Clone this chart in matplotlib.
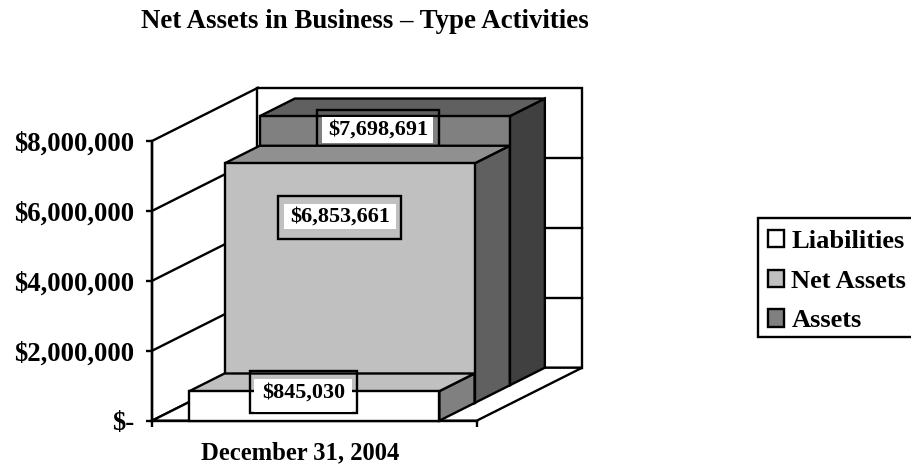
import matplotlib
matplotlib.use("Agg")
import matplotlib.pyplot as plt
from matplotlib.patches import Patch, Polygon, Rectangle
from matplotlib.transforms import Affine2D

W, H = 912, 466

# data, front to back
series = ["Liabilities", "Net Assets", "Assets"]
values = [845030, 6853661, 7698691]
category = "December 31, 2004"
title = "Net Assets in Business \u2013 Type Activities"
y_ticks = [0, 2000000, 4000000, 6000000, 8000000]
y_labels = ["$-", "$2,000,000", "$4,000,000", "$6,000,000", "$8,000,000"]

# styles
front_cols = ["#ffffff", "#c0c0c0", "#808080"]
top_cols = ["#c0c0c0", "#909090", "#606060"]
side_cols = ["#808080", "#606060", "#404040"]
# outer box, inner white box (left, top, right, bottom in pixels)
outer_boxes = [(249.5, 371, 356.5, 413), (278, 196, 400.5, 239), (317, 110, 439, 150)]
inner_boxes = [(254, 379, 352, 412), (284, 204, 396, 229), (322, 117, 433, 143)]

LW = 1.7
FONT = "Liberation Serif"
plt.rcParams["font.family"] = FONT
plt.rcParams["font.weight"] = "bold"
plt.rcParams["axes.labelweight"] = "bold"

fig = plt.figure(figsize=(W / 100, H / 100), dpi=100)
# pixel coordinates measured from the top left corner of the picture
px = Affine2D().scale(1, -1).translate(0, H)

left, right, bottom, top = 152, 476.7, 420.7, 141
ax = fig.add_axes([left / W, 1 - bottom / H, (right - left) / W, (bottom - top) / H])
ax.set_xlim(0, 1)
ax.set_ylim(0, 8000000)
ax.patch.set_visible(False)

# depth of the box, in axis units
depth_x = 105.5 / (right - left)
depth_y = 53 / (bottom - top) * 8000000


def pt(x, y, z):
    return (x + z * depth_x, y + z * depth_y)


def face(points, color, zorder):
    ax.add_patch(Polygon([pt(*p) for p in points], closed=True, facecolor=color,
                         edgecolor="black", linewidth=LW, joinstyle="miter",
                         clip_on=False, zorder=zorder))


ymax = y_ticks[-1]
# walls and floor
face([(0, 0, 0), (0, ymax, 0), (0, ymax, 1), (0, 0, 1)], "white", 1)
face([(0, 0, 1), (0, ymax, 1), (1, ymax, 1), (1, 0, 1)], "white", 1)
face([(0, 0, 0), (1, 0, 0), (1, 0, 1), (0, 0, 1)], "white", 1)
for t in y_ticks[1:-1]:
    for a, b in [((0, t, 0), (0, t, 1)), ((0, t, 1), (1, t, 1))]:
        xs, ys = zip(pt(*a), pt(*b))
        ax.plot(xs, ys, color="black", lw=LW, clip_on=False, zorder=1.5)

# bars, back one first so the nearer ones cover it
x0, x1 = 0.115, 0.885
for i in [2, 1, 0]:
    z0, z1 = i / 3, (i + 1) / 3
    v = values[i]
    zo = 3 + (2 - i)
    face([(x1, 0, z0), (x1, v, z0), (x1, v, z1), (x1, 0, z1)], side_cols[i], zo)
    face([(x0, v, z0), (x1, v, z0), (x1, v, z1), (x0, v, z1)], top_cols[i], zo)
    face([(x0, 0, z0), (x1, 0, z0), (x1, v, z0), (x0, v, z0)], front_cols[i], zo)

    l, t, r, b = outer_boxes[i]
    ax.add_patch(Rectangle((l, t), r - l, b - t, transform=px,
                           facecolor="none", edgecolor="black", linewidth=LW,
                           clip_on=False, zorder=zo + 0.1))
    l, t, r, b = inner_boxes[i]
    ax.add_patch(Rectangle((l, t), r - l, b - t, transform=px, facecolor="white",
                           edgecolor="none", clip_on=False, zorder=zo + 0.2))
    cy = (t + b) / 2 if i else 392.5
    ax.text((l + r) / 2 + 0.5, cy, f"${v:,}", transform=px, ha="center", va="center",
            fontsize=15.9, clip_on=False, zorder=zo + 0.3)

# axes
for s in ["top", "right"]:
    ax.spines[s].set_visible(False)
for s in ["left", "bottom"]:
    ax.spines[s].set_linewidth(LW)
    ax.spines[s].set_zorder(2.5)
ax.set_yticks(y_ticks, labels=y_labels, fontsize=19.3)
ax.set_xticks([0, 1], labels=["", ""])
ax.tick_params(axis="y", length=4, width=LW, pad=9)
ax.tick_params(axis="x", length=4, width=LW, direction="out")
ax.set_xlabel(category, fontsize=17.7, x=0.455, labelpad=7.6)

fig.text(364.5 / W, 1 - 27.5 / H, title, ha="center", va="baseline", fontsize=19.35)

# legend frame runs off the right edge of the picture
ax.add_patch(Rectangle((758.3, 218.3), 170, 118.4, transform=px, facecolor="white",
                       edgecolor="black", linewidth=LW, clip_on=False, zorder=1))
handles = [Patch(facecolor=c, edgecolor="black", linewidth=LW, label=s)
           for c, s in zip(front_cols, series)]
leg = ax.legend(handles=handles, loc="upper left", bbox_to_anchor=(758, 220), bbox_transform=px,
                fontsize=19, frameon=False, borderpad=0.38, handlelength=0.62,
                handleheight=0.62, handletextpad=0.26, labelspacing=0.63, borderaxespad=0)

fig.savefig("out.png", dpi=100)
